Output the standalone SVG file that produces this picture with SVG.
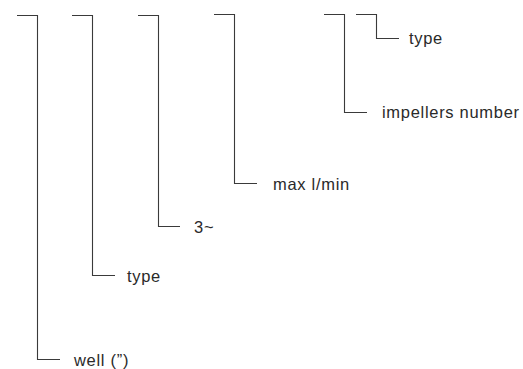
<svg xmlns="http://www.w3.org/2000/svg" width="523" height="369" viewBox="0 0 523 369">
<style>
.c{fill:none;stroke:#3a3a3a;stroke-width:1.1}
.t{font-family:"Liberation Sans",Arial,sans-serif;font-size:16.5px;fill:#2a2a2a;letter-spacing:0.7px}
</style>
<rect width="523" height="369" fill="#fff"/>
<g id="connectors">
<path class="c" d="M17 15.5H37.5V359.5H60"/>
<path class="c" d="M72 15.5H92.5V275.5H115"/>
<path class="c" d="M138 15.5H158.5V226.5H180"/>
<path class="c" d="M214 14.5H234.5V183.5H257"/>
<path class="c" d="M324 14.5H344.5V112.5H367"/>
<path class="c" d="M356 14.5H376.5V38.5H399"/>
</g>
<g id="well"><text class="t" x="74" y="366">well (”)</text></g>
<g id="type1"><text class="t" x="127" y="282">type</text></g>
<g id="phase"><text class="t" x="194" y="233">3~</text></g>
<g id="maxflow"><text class="t" x="273" y="190">max l/min</text></g>
<g id="impellers"><text class="t" x="382" y="118">impellers number</text></g>
<g id="type2"><text class="t" x="409" y="44">type</text></g>
</svg>
